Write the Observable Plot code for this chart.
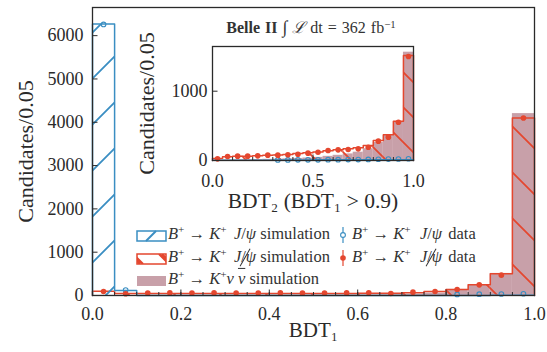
<!DOCTYPE html>
<html><head><meta charset="utf-8">
<script src="https://cdn.jsdelivr.net/npm/d3@7"></script>
<script src="https://cdn.jsdelivr.net/npm/@observablehq/plot@0.6"></script>
<style>
body{margin:0;background:#fff;}
#wrap{position:relative;width:547px;height:352px;font-family:"Liberation Serif","DejaVu Serif",serif;color:#333;overflow:hidden;}
#wrap > svg{position:absolute;overflow:visible !important;}
.lab{position:absolute;white-space:nowrap;line-height:1;}
sup{font-size:0.68em;vertical-align:0.5em;line-height:0;}
.ar{margin:0 0.25em;}
.sp{margin-left:0.2em;}
.veto{position:relative;display:inline-block;}
.veto::after{content:"";position:absolute;left:1px;right:1px;top:50%;border-top:1.1px solid #333;transform:rotate(-60deg);}
</style></head>
<body><div id="wrap"></div>
<script>
const FONT = "'Liberation Serif','DejaVu Serif',serif";
const BLUE = "#3a8ec2", RED = "#e4472f", PINK = "#c8a0a9", INK = "#2a2a2a";

// bin lower edges (bin width 0.05)
const binStart = [0.00,0.05,0.10,0.15,0.20,0.25,0.30,0.35,0.40,0.45,0.50,0.55,0.60,0.65,0.70,0.75,0.80,0.85,0.90,0.95];
const binWidth = 0.05;

// main panel: BDT1
const mainBlueSim  = [6270,115,0,0,0,0,0,0,0,0,0,0,0,0,0,0,1,2,3,4];
const mainBlueData = [6260,125,null,null,null,null,null,null,null,null,null,null,null,null,null,null,25,30,35,40];
const mainRedSim   = [100,45,45,45,45,45,45,45,45,45,45,45,50,50,62,92,138,246,500,4100];
const mainRedData  = [92,40,55,60,55,60,55,55,60,55,55,60,62,46,77,92,138,246,470,4100];
const mainSignal   = [3,3,4,4,5,5,6,7,8,9,10,12,15,20,30,55,140,250,510,4200];
const mainXTicks = [0,0.2,0.4,0.6,0.8,1.0];
const mainYTicks = [0,1000,2000,3000,4000,5000,6000];

// inset: BDT2 (BDT1 > 0.9)
const insetBlueSim  = [2,2,3,3,4,5,6,7,8,9,10,10,10,11,11,12,12,12,12,12];
const insetBlueData = [null,null,null,null,null,null,8,8,10,10,10,12,12,14,14,15,18,20,22,25];
const insetRedSim   = [30,55,60,62,68,75,80,88,100,112,122,140,154,168,183,216,289,370,567,1515];
const insetRedData  = [24,58,63,63,67,77,77,82,91,106,120,144,154,159,168,192,279,337,553,1500];
const insetSignal   = [5,8,10,12,14,17,20,24,30,36,45,60,75,95,120,170,260,360,560,1563];
const insetXTicks = [0,0.5,1.0];
const insetYTicks = [0,1000];

function rows(blueSim, blueData, redSim, redData, signal) {
  return binStart.map((x0, i) => ({x0, x1: x0 + binWidth, xc: x0 + binWidth / 2,
    blueSim: blueSim[i], blueData: blueData[i], redSim: redSim[i], redData: redData[i], signal: signal[i]}));
}
function step(vals) {
  const pts = [{x: binStart[0], y: 0}];
  vals.forEach((v, i) => { pts.push({x: binStart[i], y: v}, {x: binStart[i] + binWidth, y: v}); });
  pts.push({x: binStart[binStart.length - 1] + binWidth, y: 0});
  return pts;
}
function addHatch(svg, id, size, color, dir, ox, oy, sw) {
  let defs = d3.select(svg).select("defs");
  if (defs.empty()) defs = d3.select(svg).insert("defs", ":first-child");
  const s = size;
  const d = dir === "/"
    ? `M-3,3 L3,-3 M0,${s} L${s},0 M${s-3},${s+3} L${s+3},${s-3}`
    : `M-3,${s-3} L3,${s+3} M0,0 L${s},${s} M${s-3},-3 L${s+3},3`;
  defs.append("pattern").attr("id", id).attr("patternUnits", "userSpaceOnUse")
    .attr("width", s).attr("height", s).attr("x", ox).attr("y", oy)
    .append("path").attr("d", d).attr("stroke", color).attr("stroke-width", sw).attr("fill", "none");
}

function panel(cfg) {
  const data = rows(cfg.blueSim, cfg.blueData, cfg.redSim, cfg.redData, cfg.signal);
  const svg = Plot.plot({
    width: cfg.width, height: cfg.height,
    marginLeft: cfg.ml, marginRight: cfg.mr, marginTop: cfg.mt, marginBottom: cfg.mb,
    style: {fontFamily: FONT, color: INK, background: "transparent", overflow: "visible"},
    x: {domain: [0, 1]},
    y: {domain: [0, cfg.ymax]},
    marks: [
      Plot.rect(data, {x1: "x0", x2: "x1", y1: 0, y2: "signal", fill: PINK}),
      Plot.rect(data, {x1: "x0", x2: "x1", y1: 0, y2: "redSim", fill: `url(#${cfg.id}R)`}),
      Plot.line(step(cfg.redSim), {x: "x", y: "y", stroke: RED, strokeWidth: 1.5}),
      Plot.rect(data, {x1: "x0", x2: "x1", y1: 0, y2: "blueSim", fill: `url(#${cfg.id}B)`}),
      Plot.line(step(cfg.blueSim), {x: "x", y: "y", stroke: BLUE, strokeWidth: 1.5}),
      Plot.dot(data.filter(d => d.blueData != null), {x: "xc", y: "blueData", r: 2.3, stroke: BLUE, fill: "none", strokeWidth: 1.1}),
      Plot.dot(data, {x: "xc", y: "redData", r: 2.8, fill: RED}),
      Plot.frame({stroke: INK, strokeWidth: 1.3}),
      Plot.axisX({ticks: cfg.xMajor, tickFormat: d3.format(".1f"), tickSize: 0, tickPadding: cfg.xPad, fontSize: cfg.fs, label: null, stroke: "none"}),
      Plot.axisX({ticks: cfg.xMinor, tickSize: 3, dy: -3, fill: "none", label: null, stroke: INK}),
      Plot.axisX({ticks: cfg.xMajor, tickSize: 5.5, dy: -5.5, fill: "none", label: null, stroke: INK}),
      Plot.axisY({ticks: cfg.yTicks, tickFormat: d3.format("d"), tickSize: 0, tickPadding: cfg.yPad, fontSize: cfg.fs, label: null, stroke: "none"}),
      Plot.axisY({ticks: cfg.yTicks, tickSize: 5.5, dx: 5.5, fill: "none", label: null, stroke: INK}),
      Plot.text([cfg.xLabel], {frameAnchor: "bottom", textAnchor: "middle", lineAnchor: "middle", dy: cfg.xLabDy, fontSize: cfg.labFs, fill: INK}),
      Plot.text([cfg.yLabel], {frameAnchor: "left", textAnchor: "middle", lineAnchor: "middle", rotate: -90, dx: cfg.yLabDx, fontSize: cfg.yLabFs, fill: INK})
    ]
  });
  svg.style.overflow = "visible";
  addHatch(svg, cfg.id + "R", cfg.hatch, RED, "\\", cfg.rox, 0, 1.8);
  addHatch(svg, cfg.id + "B", cfg.hatch, BLUE, "/", 0, cfg.boy, 1.8);
  return svg;
}

const wrap = document.getElementById("wrap");

const mainSvg = panel({
  id: "m", width: 547, height: 352, ml: 92, mr: 13, mt: 7, mb: 57, ymax: 6650,
  blueSim: mainBlueSim, blueData: mainBlueData, redSim: mainRedSim, redData: mainRedData, signal: mainSignal,
  xMajor: mainXTicks, xMinor: d3.range(0, 21).map(i => i * 0.05), yTicks: mainYTicks,
  fs: 18, xPad: 12, yPad: 9, xLabel: "BDT₁", xLabDy: 35, labFs: 21,
  yLabel: "Candidates/0.05", yLabDx: -67, yLabFs: 22, hatch: 46, rox: 18, boy: -13
});
mainSvg.style.left = "0px"; mainSvg.style.top = "0px";
wrap.appendChild(mainSvg);

const IX = 120, IY = 15;
const insetSvg = panel({
  id: "i", width: 310, height: 200, ml: 92, mr: 17, mt: 31, mb: 55, ymax: 1645,
  blueSim: insetBlueSim, blueData: insetBlueData, redSim: insetRedSim, redData: insetRedData, signal: insetSignal,
  xMajor: insetXTicks, xMinor: d3.range(0, 11).map(i => i * 0.1), yTicks: insetYTicks,
  fs: 18, xPad: 14, yPad: 5, xLabel: "BDT₂ (BDT₁ > 0.9)", xLabDy: 41, labFs: 21.5,
  yLabel: "Candidates/0.05", yLabDx: -66, yLabFs: 22, hatch: 35, rox: 16, boy: 0
});
insetSvg.style.left = IX + "px"; insetSvg.style.top = IY + "px";
wrap.appendChild(insetSvg);

// title of inset
const title = document.createElement("div");
title.className = "lab";
title.style.cssText = "left:311px;top:28px;transform:translate(-50%,-50%);font-size:16px;word-spacing:1px;";
title.innerHTML = '<b>Belle II</b> <span style="font-size:1.1em">∫</span> <i>ℒ</i> dt = 362 fb<sup>−1</sup>';
wrap.appendChild(title);

// legend
const legendItems = [
  {col: 0, row: 0, kind: "blueSim", html: '<i>B</i><sup>+</sup><span class="ar">→</span><i>K</i><sup>+</sup><span class="sp"></span> <i>J</i>/<i>ψ</i> simulation'},
  {col: 1, row: 0, kind: "blueData", html: '<i>B</i><sup>+</sup><span class="ar">→</span><i>K</i><sup>+</sup><span class="sp"></span> <i>J</i>/<i>ψ</i> data'},
  {col: 0, row: 1, kind: "redSim", html: '<i>B</i><sup>+</sup><span class="ar">→</span><i>K</i><sup>+</sup><span class="sp"></span> <span class="veto"><i>J</i>/<i>ψ</i></span> simulation'},
  {col: 1, row: 1, kind: "redData", html: '<i>B</i><sup>+</sup><span class="ar">→</span><i>K</i><sup>+</sup><span class="sp"></span> <span class="veto"><i>J</i>/<i>ψ</i></span> data'},
  {col: 0, row: 2, kind: "signal", html: '<i>B</i><sup>+</sup><span class="ar">→</span><i>K</i><sup>+</sup><i>ν</i> <i style="text-decoration:overline">ν</i> simulation'}
];
const rowY = [235, 258, 280];
const swatch = {
  blueSim: `<svg width="31" height="12"><rect x="1" y="1" width="29" height="10" fill="none" stroke="${BLUE}" stroke-width="1.5"/><path d="M10,11 L20,1" stroke="${BLUE}" stroke-width="2"/></svg>`,
  redSim: `<svg width="31" height="12"><clipPath id="lc"><rect x="1" y="1" width="29" height="10"/></clipPath><g clip-path="url(#lc)" stroke="${RED}" stroke-width="2.2"><path d="M-6,1 L4,11 M-3,1 L7,11 M26,1 L36,11 M23,1 L33,11"/></g><rect x="1" y="1" width="29" height="10" fill="none" stroke="${RED}" stroke-width="1.5"/></svg>`,
  signal: `<svg width="31" height="12"><rect x="1" y="1" width="29" height="10" fill="${PINK}"/></svg>`,
  blueData: `<svg width="10" height="18"><line x1="5" y1="1" x2="5" y2="17" stroke="${BLUE}" stroke-width="1.2"/><circle cx="5" cy="9" r="2.4" fill="white" stroke="${BLUE}" stroke-width="1.1"/></svg>`,
  redData: `<svg width="10" height="18"><line x1="5" y1="1" x2="5" y2="17" stroke="${RED}" stroke-width="1.2"/><circle cx="5" cy="9" r="2.8" fill="${RED}"/></svg>`
};
legendItems.forEach(it => {
  const y = rowY[it.row];
  const sw = document.createElement("div");
  sw.className = "lab";
  if (it.col === 0) sw.style.cssText = `left:136px;top:${y - 6}px;`;
  else sw.style.cssText = `left:338px;top:${y - 9}px;`;
  sw.innerHTML = swatch[it.kind];
  wrap.appendChild(sw);
  const t = document.createElement("div");
  t.className = "lab";
  t.style.cssText = `left:${it.col === 0 ? 168 : 352}px;top:${y}px;transform:translateY(-55%);font-size:16.5px;word-spacing:${it.col === 0 ? 0 : 2}px;`;
  t.innerHTML = it.html;
  wrap.appendChild(t);
});
</script></body></html>
